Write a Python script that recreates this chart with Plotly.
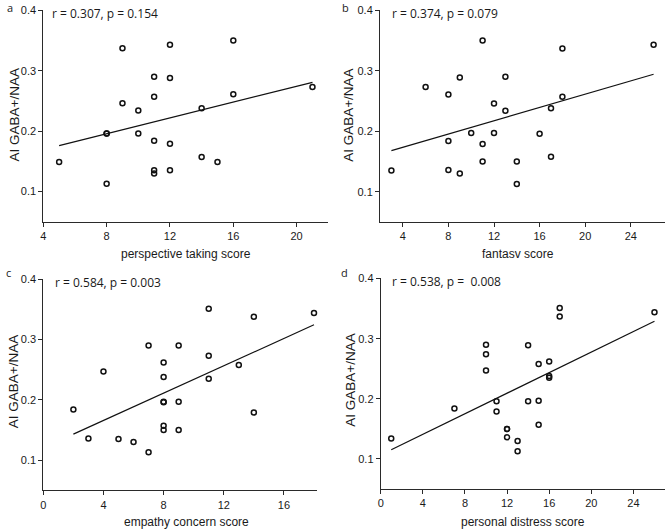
import numpy as np
import plotly.graph_objects as go

# ---------------- data ----------------
pt_score = [5, 8, 8, 8, 9, 9, 10, 10, 11, 11, 11, 11, 11, 12, 12, 12, 12, 14, 14, 15, 16, 16, 21]
pt_gaba = [0.149, 0.196, 0.196, 0.113, 0.337, 0.246, 0.234, 0.196, 0.290, 0.257, 0.184, 0.135,
           0.130, 0.343, 0.288, 0.179, 0.135, 0.238, 0.157, 0.149, 0.350, 0.261, 0.273]

fs_score = [3, 6, 8, 8, 8, 9, 9, 10, 11, 11, 11, 12, 12, 13, 13, 14, 14, 16, 17, 17, 18, 18, 26]
fs_gaba = [0.135, 0.273, 0.261, 0.184, 0.136, 0.289, 0.130, 0.197, 0.350, 0.179, 0.150, 0.246,
           0.197, 0.290, 0.234, 0.150, 0.113, 0.196, 0.238, 0.158, 0.337, 0.257, 0.343]

ec_score = [2, 3, 4, 5, 6, 7, 7, 8, 8, 8, 8, 8, 8, 9, 9, 9, 11, 11, 11, 13, 14, 14, 18]
ec_gaba = [0.184, 0.136, 0.247, 0.135, 0.130, 0.290, 0.113, 0.262, 0.238, 0.197, 0.196, 0.157,
           0.150, 0.290, 0.197, 0.150, 0.351, 0.273, 0.235, 0.258, 0.338, 0.179, 0.344]

pd_score = [1, 7, 10, 10, 10, 11, 11, 12, 12, 12, 13, 13, 14, 14, 15, 15, 15, 16, 16, 16, 17, 17, 26]
pd_gaba = [0.134, 0.184, 0.290, 0.274, 0.247, 0.196, 0.179, 0.150, 0.150, 0.136, 0.130, 0.113,
           0.289, 0.196, 0.258, 0.197, 0.157, 0.262, 0.238, 0.235, 0.351, 0.337, 0.344]

panel_letters = ["a", "b", "c", "d"]
x_titles = ["perspective taking score", "fantasv score", "empathy concern score", "personal distress score"]
y_title = "AI GABA+/NAA"
stats_text = ["r = 0.307, p = 0.154", "r = 0.374, p = 0.079", "r = 0.584, p = 0.003", "r = 0.538, p =  0.008"]

panels = [(pt_score, pt_gaba), (fs_score, fs_gaba), (ec_score, ec_gaba), (pd_score, pd_gaba)]

# ---------------- layout geometry ----------------
W, H = 670, 531
def px(x):
    return x / W
def py(y):
    return 1 - y / H

# pixel boxes (left, right, top, bottom) of each plotting area
boxes = [(43.3, 328.3, 10.0, 221.7), (380.0, 665.0, 10.0, 222.0),
         (43.3, 317.0, 279.0, 490.3), (380.7, 665.0, 278.3, 489.0)]
x_ranges = [[4, 22], [2, 27], [0, 18.2], [0, 27]]
x_tick0 = [4, 0, 0, 0]
xtitle_pos = [(185.8, 254.0), (518.3, 254.0), (186.7, 522.0), (523.0, 521.7)]
ytitle_pos = [(14.0, 115.5), (348.3, 115.5), (13.5, 381.7), (351.0, 380.7)]
letter_pos = [(5, 7), (340, 7), (4, 272), (339, 272)]
stats_pos = [(50, 13), (390, 13), (53, 282), (390, 281)]

fig = go.Figure()
tick_font = dict(family="Liberation Sans, Arial, sans-serif", size=11, color="#1a1a1a")
axis_col = "#2a2a2a"
layout = dict(width=W, height=H, margin=dict(l=0, r=0, t=0, b=0),
              plot_bgcolor="white", paper_bgcolor="white", showlegend=False)
annotations = []

for i, (xs, ys) in enumerate(panels):
    sfx = "" if i == 0 else str(i + 1)
    xa, ya = "x" + sfx, "y" + sfx
    # linear least-squares fit line across observed score range
    slope, intercept = np.polyfit(xs, ys, 1)
    fx = np.array([min(xs), max(xs)])
    fig.add_trace(go.Scatter(x=fx, y=slope * fx + intercept, mode="lines",
                             line=dict(color="#111111", width=1.2),
                             xaxis=xa, yaxis=ya, hoverinfo="skip", cliponaxis=False))
    fig.add_trace(go.Scatter(x=xs, y=ys, mode="markers", cliponaxis=False,
                             marker=dict(symbol="circle-open", size=5,
                                         color="#111111", line=dict(width=1.5, color="#111111")),
                             xaxis=xa, yaxis=ya))
    l, r, t, b = boxes[i]
    layout["xaxis" + sfx] = dict(domain=[px(l), px(r)], anchor=ya, range=x_ranges[i],
                                 tick0=x_tick0[i], dtick=4, showgrid=False, zeroline=False,
                                 showline=True, linecolor=axis_col, linewidth=1,
                                 ticks="outside", ticklen=4, tickcolor=axis_col, tickwidth=1,
                                 tickfont=tick_font, automargin=False)
    layout["yaxis" + sfx] = dict(domain=[py(b), py(t)], anchor=xa, range=[0.05, 0.4005],
                                 tickvals=[0.1, 0.2, 0.3, 0.4], ticktext=["0.1", "0.2", "0.3", "0.4"],
                                 showgrid=False, zeroline=False,
                                 showline=True, linecolor=axis_col, linewidth=1,
                                 ticks="outside", ticklen=4, tickcolor=axis_col, tickwidth=1,
                                 tickfont=tick_font, automargin=False)
    annotations.append(dict(text=x_titles[i], x=px(xtitle_pos[i][0]), y=py(xtitle_pos[i][1]),
                            xref="paper", yref="paper", xanchor="center", yanchor="middle",
                            showarrow=False,
                            font=dict(family="Liberation Sans, Arial, sans-serif", size=12, color="#1a1a1a")))
    annotations.append(dict(text=y_title, x=px(ytitle_pos[i][0]), y=py(ytitle_pos[i][1]),
                            xref="paper", yref="paper", xanchor="center", yanchor="middle",
                            textangle=-90, showarrow=False,
                            font=dict(family="Liberation Sans, Arial, sans-serif", size=13.5, color="#1a1a1a")))
    annotations.append(dict(text=panel_letters[i], x=px(letter_pos[i][0]), y=py(letter_pos[i][1]),
                            xref="paper", yref="paper", xanchor="left", yanchor="middle",
                            showarrow=False,
                            font=dict(family="Open Sans, sans-serif", size=11, color="#1a1a1a")))
    annotations.append(dict(text=stats_text[i], x=px(stats_pos[i][0]), y=py(stats_pos[i][1]),
                            xref="paper", yref="paper", xanchor="left", yanchor="middle",
                            showarrow=False,
                            font=dict(family="Open Sans, sans-serif", size=12, color="#1a1a1a")))

layout["annotations"] = annotations
fig.update_layout(**layout)
fig.write_html("out.html", config={"displayModeBar": False},
               post_script="document.body.style.margin='0';document.body.style.overflow='hidden';")
